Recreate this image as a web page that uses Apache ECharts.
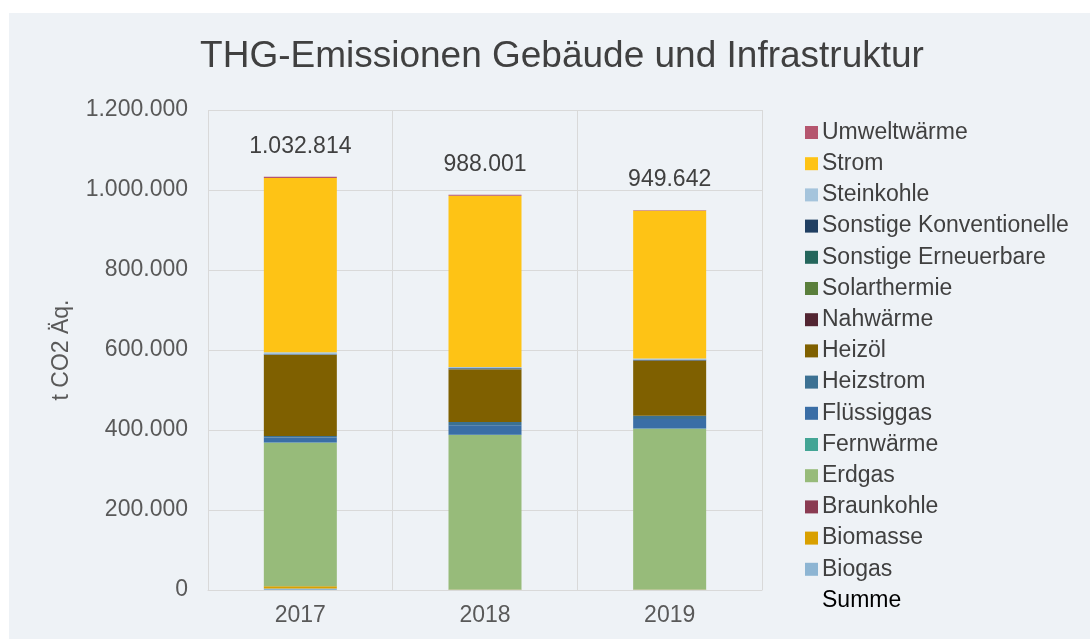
<!DOCTYPE html>
<html>
<head>
<meta charset="utf-8">
<script src="https://cdn.jsdelivr.net/npm/echarts@6/dist/echarts.min.js"></script>
<style>
  html, body { margin: 0; padding: 0; background: #fff; }
  #chart { width: 1090px; height: 639px; }
</style>
</head>
<body>
<div id="chart"></div>
<script>
const years = ['2017', '2018', '2019']

// Werte in t CO2 Äq., von unten nach oben gestapelt
const biogas = [3500, 500, 500]
const biomasse = [6000, 1000, 1000]
const braunkohle = [0, 0, 0]
const erdgas = [358500, 386000, 401500]
const fernwaerme = [500, 500, 500]
const fluessiggas = [13000, 24000, 24000]
const heizstrom = [3500, 8000, 8000]
const heizoel = [202500, 131500, 137500]
const nahwaerme = [500, 500, 500]
const solarthermie = [300, 300, 300]
const sonstErneuerbare = [300, 300, 300]
const sonstKonventionelle = [500, 1500, 1500]
const steinkohle = [5000, 3500, 3000]
const strom = [435714, 427901, 369542]
const umweltwaerme = [3000, 2500, 1500]
const summe = [1032814, 988001, 949642]

const yTicks = [0, 200000, 400000, 600000, 800000, 1000000, 1200000]

const stackParts = [
  { name: 'Biogas', data: biogas, color: '#8db5d3' },
  { name: 'Biomasse', data: biomasse, color: '#d9a000' },
  { name: 'Braunkohle', data: braunkohle, color: '#8a3b52' },
  { name: 'Erdgas', data: erdgas, color: '#97bb7a' },
  { name: 'Fernwärme', data: fernwaerme, color: '#43a595' },
  { name: 'Flüssiggas', data: fluessiggas, color: '#3a6ea6' },
  { name: 'Heizstrom', data: heizstrom, color: '#3c7193' },
  { name: 'Heizöl', data: heizoel, color: '#7f6000' },
  { name: 'Nahwärme', data: nahwaerme, color: '#522532' },
  { name: 'Solarthermie', data: solarthermie, color: '#5a7f3c' },
  { name: 'Sonstige Erneuerbare', data: sonstErneuerbare, color: '#24665c' },
  { name: 'Sonstige Konventionelle', data: sonstKonventionelle, color: '#203f62' },
  { name: 'Steinkohle', data: steinkohle, color: '#a5c4dc' },
  { name: 'Strom', data: strom, color: '#fec315' },
  { name: 'Umweltwärme', data: umweltwaerme, color: '#b5566f' },
]

// deutsche Tausenderpunkte
const fmt = (v) => String(v).replace(/\B(?=(\d{3})+(?!\d))/g, '.')

const chart = echarts.init(document.getElementById('chart'))

const series = stackParts.map((p) => ({
  name: p.name,
  type: 'bar',
  stack: 'total',
  barWidth: 73,
  itemStyle: { color: p.color },
  data: p.data,
}))

// unsichtbare Linie nur für die Summenbeschriftung
series.push({
  name: 'Summe',
  type: 'line',
  data: summe,
  symbol: 'circle',
  symbolSize: 1,
  lineStyle: { color: 'rgba(0,0,0,0)' },
  itemStyle: { color: 'rgba(0,0,0,0)' },
  label: {
    show: true,
    position: 'top',
    distance: 18,
    color: '#404040',
    fontSize: 23,
    formatter: (p) => fmt(p.value),
  },
  z: 5,
})

const legendData = stackParts.map((p) => ({ name: p.name })).reverse()
legendData.push({
  name: 'Summe',
  itemStyle: { opacity: 0 },
  lineStyle: { opacity: 0 },
  textStyle: { color: '#000' },
})

chart.setOption({
  animation: false,
  textStyle: { fontFamily: 'Liberation Sans, Arial, sans-serif' },
  graphic: [
    {
      type: 'rect',
      z: -10,
      shape: { x: 9, y: 13, width: 1081, height: 626 },
      style: { fill: '#eef2f6' },
    },
  ],
  title: {
    text: 'THG-Emissionen Gebäude und Infrastruktur',
    left: 557,
    textAlign: 'center',
    top: 33,
    textStyle: { fontSize: 37, fontWeight: 'normal', color: '#404040' },
  },
  legend: {
    orient: 'vertical',
    left: 800,
    top: 116,
    icon: 'rect',
    itemWidth: 13,
    itemHeight: 13,
    itemGap: 8.2,
    textStyle: { fontSize: 23, lineHeight: 23, color: '#404040', padding: [0, 0, 0, -1] },
    data: legendData,
  },
  grid: { left: 208, right: 328, top: 110, bottom: 49 },
  xAxis: {
    type: 'category',
    data: years,
    axisLine: { lineStyle: { color: '#d9d9d9', width: 1 } },
    axisTick: { show: false },
    splitLine: { show: true, lineStyle: { color: '#d9d9d9' } },
    axisLabel: { color: '#595959', fontSize: 23, margin: 14 },
  },
  yAxis: {
    type: 'value',
    min: yTicks[0],
    max: yTicks[yTicks.length - 1],
    interval: 200000,
    name: 't CO2 Äq.',
    nameLocation: 'middle',
    nameGap: 135,
    nameTextStyle: { color: '#595959', fontSize: 23 },
    axisLabel: { color: '#595959', fontSize: 23, margin: 20, formatter: fmt },
    splitLine: { lineStyle: { color: '#d9d9d9', width: 1 } },
  },
  series: series,
})
</script>
</body>
</html>
